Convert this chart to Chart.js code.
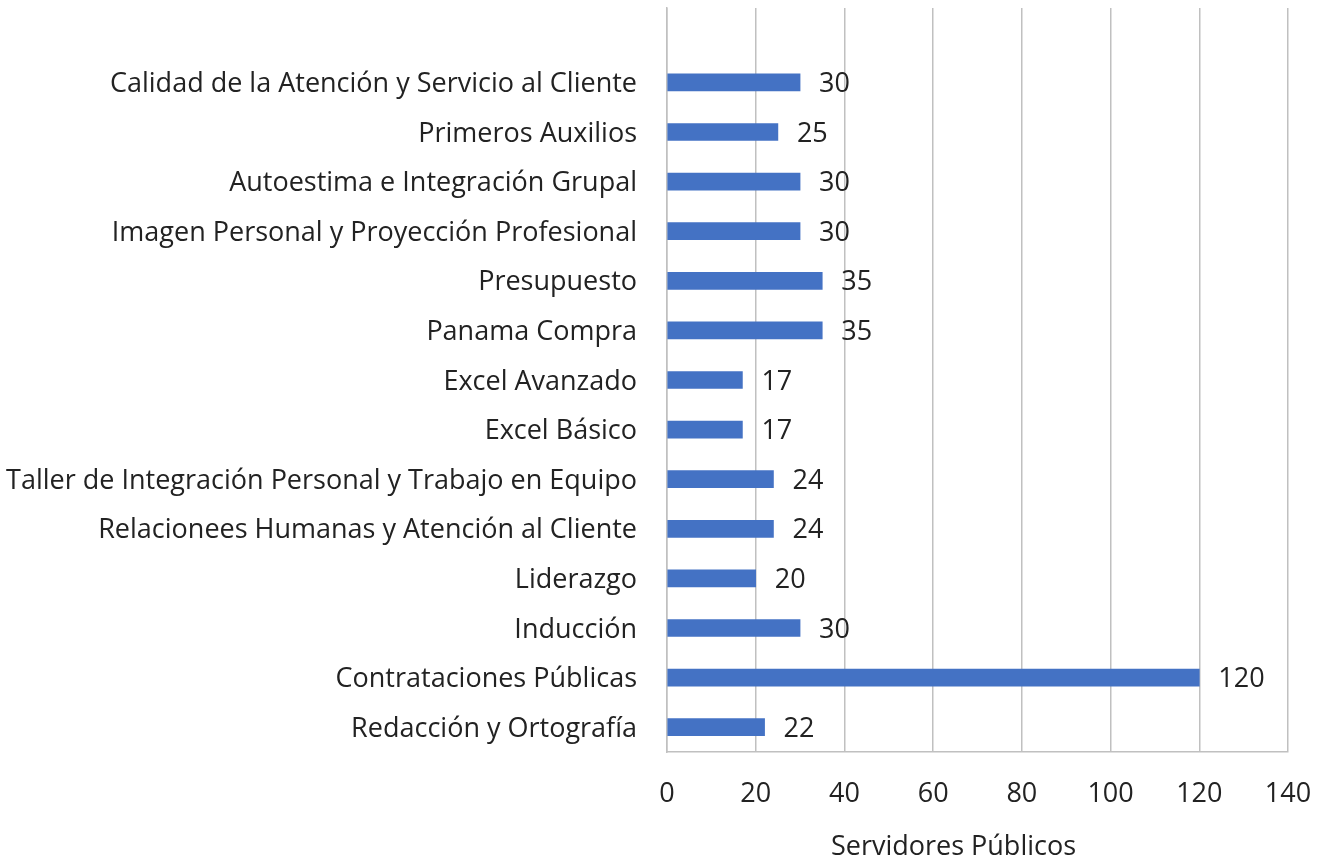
<!DOCTYPE html>
<html><head><meta charset="utf-8">
<script src="https://cdn.jsdelivr.net/npm/chart.js@4/dist/chart.umd.min.js"></script>
<style>html,body{margin:0;padding:0;background:#fff}#wrap{width:1324px;height:862px}</style>
</head><body><div id="wrap"><canvas id="c" width="1324" height="862"></canvas></div>
<script>
const categories = ['', 'Calidad de la Atención y Servicio al Cliente', 'Primeros Auxilios', 'Autoestima e Integración Grupal', 'Imagen Personal y Proyección Profesional', 'Presupuesto', 'Panama Compra', 'Excel Avanzado', 'Excel Básico', 'Taller de Integración Personal y Trabajo en Equipo', 'Relacionees Humanas y Atención al Cliente', 'Liderazgo', 'Inducción', 'Contrataciones Públicas', 'Redacción y Ortografía'];
const servidores = [null, 30, 25, 30, 30, 35, 35, 17, 17, 24, 24, 20, 30, 120, 22];
const xTicks = [0, 20, 40, 60, 80, 100, 120, 140];
const axisTitle = 'Servidores Públicos';

const FONT = '"Open Sans", Lato, sans-serif';
const FS = 27;
const labelPlugin = {
  id: 'vals',
  afterDatasetsDraw(chart) {
    const ctx = chart.ctx;
    const meta = chart.getDatasetMeta(0);
    ctx.save();
    ctx.font = FS + 'px ' + FONT;
    ctx.fillStyle = '#222';
    ctx.textAlign = 'left';
    ctx.textBaseline = 'middle';
    meta.data.forEach((el, i) => {
      const v = servidores[i];
      if (v === null) return;
      ctx.fillText(String(v), el.x + 19, el.y + 2);
    });
    // axis title, placed slightly left of plot centre as in the original
    const ca = chart.chartArea;
    ctx.textAlign = 'center';
    ctx.fillText(axisTitle, (ca.left + ca.right) / 2 - 24, ca.bottom + 95);
    ctx.restore();
  }
};

new Chart(document.getElementById('c'), {
  type: 'bar',
  data: { labels: categories, datasets: [{ data: servidores, backgroundColor: '#4472C4', barThickness: 17 }] },
  options: {
    indexAxis: 'y',
    responsive: false,
    animation: false,
    layout: { padding: { top: 8, right: 36, left: 0, bottom: 0 } },
    plugins: { legend: { display: false }, tooltip: { enabled: false } },
    scales: {
      x: {
        min: 0, max: 140,
        afterBuildTicks(s) { s.ticks = xTicks.map(v => ({ value: v })); },
        afterFit(s) { s.height = 110; s.paddingLeft = 0; s.paddingRight = 0; },
        grid: { color: '#c0c0c0', lineWidth: 1.5, drawTicks: false },
        border: { color: '#c0c0c0', width: 1.5 },
        ticks: { color: '#222', font: { size: FS, family: FONT }, padding: 26 },
        title: { display: false }
      },
      y: {
        afterFit(s) { s.width = 667; s.paddingTop = 0; s.paddingBottom = 0; },
        grid: { display: false, drawTicks: false },
        border: { color: '#c0c0c0', width: 1.5 },
        ticks: { color: '#222', font: { size: FS, family: FONT }, padding: 30, autoSkip: false, labelOffset: 2 }
      }
    }
  },
  plugins: [labelPlugin]
});
</script></body></html>
